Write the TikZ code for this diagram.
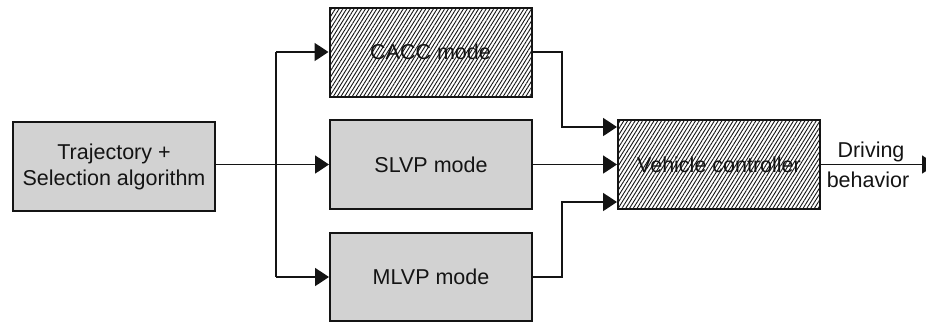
\documentclass[tikz,border=0pt]{standalone}
\usepackage{fontspec}
\setmainfont{Liberation Sans}
\usetikzlibrary{arrows.meta,patterns.meta,calc}

\definecolor{boxgray}{RGB}{210,210,210}
\definecolor{ink}{RGB}{20,20,20}

\tikzset{
  blk/.style={draw=ink, line width=2pt, minimum width=202pt, minimum height=89pt,
    inner sep=0pt, align=center, text=ink, font=\fontsize{21.5}{26}\selectfont},
  solidblk/.style={blk, fill=boxgray},
  hatchblk/.style={blk, fill=white,
    postaction={pattern={Lines[angle=58, distance=3.2pt, line width=0.9pt]}, pattern color=ink}},
  link/.style={draw=ink, line width=1.8pt},
  arr/.style={link, -{Triangle[length=14pt, width=18pt]}},
  lbl/.style={text=ink, inner sep=0pt, font=\fontsize{21.5}{26}\selectfont}
}

\begin{document}
\begin{tikzpicture}[x=1pt, y=-1pt]
  \useasboundingbox (0,0) rectangle (926,322);

  % blocks
  \node[solidblk] (traj) at (114,166.5) {Trajectory +\\Selection algorithm};
  \node[hatchblk] (cacc) at (430.5,52) {CACC mode};
  \node[solidblk] (slvp) at (431,164.5) {SLVP mode};
  \node[solidblk, minimum height=88pt] (mlvp) at (431,277) {MLVP mode};
  \node[hatchblk] (vc) at (719,164.5) {Vehicle controller};

  % branching and merging columns
  \coordinate (split) at (276,0);
  \coordinate (merge) at (562,0);
  \coordinate (in1) at ($(vc.west)+(0,-37.5)$);
  \coordinate (in3) at ($(vc.west)+(0,37.5)$);
  \coordinate (out) at (936,164.5);

  % selection to modes
  \draw[arr] (traj.east |- slvp.west) -- (slvp.west);
  \draw[link] (split |- cacc.west) -- (split |- mlvp.west);
  \draw[arr] (split |- cacc.west) -- (cacc.west);
  \draw[arr] (split |- mlvp.west) -- (mlvp.west);

  % modes to controller
  \draw[arr] (cacc.east) -| (merge |- in1) -- (in1);
  \draw[arr] (slvp.east) -- (vc.west);
  \draw[arr] (mlvp.east) -| (merge |- in3) -- (in3);

  % controller output
  \draw[arr] (vc.east) -- (out);
  \node[lbl, anchor=base] (drv) at (871,157) {Driving};
  \node[lbl, anchor=base] (beh) at (868,187) {behavior};
\end{tikzpicture}
\end{document}
